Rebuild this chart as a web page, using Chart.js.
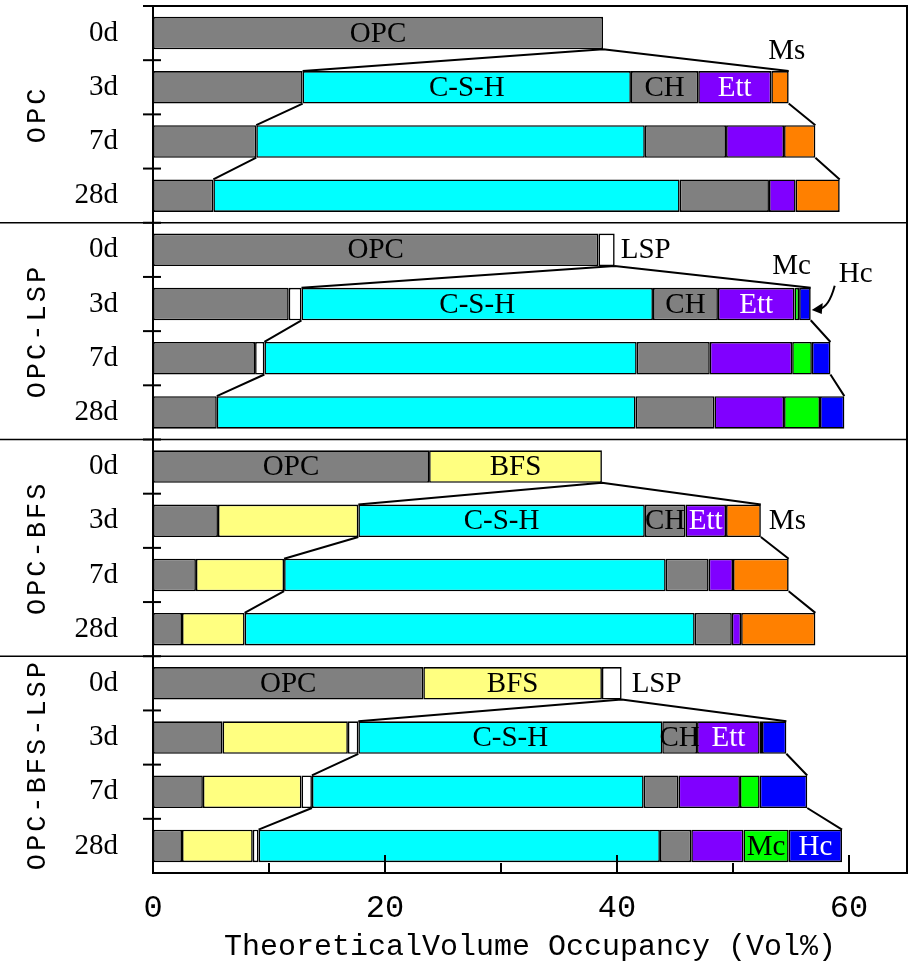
<!DOCTYPE html>
<html>
<head>
<meta charset="utf-8">
<script src="https://cdn.jsdelivr.net/npm/chart.js@4.4.1/dist/chart.umd.min.js"></script>
<style>
  html, body { margin: 0; padding: 0; background: #fff; }
  canvas { display: block; }
</style>
</head>
<body>
<canvas id="phases" width="911" height="969"></canvas>
<script>
// rows: 4 mixes x 4 ages
var groups = ['OPC', 'OPC-LSP', 'OPC-BFS', 'OPC-BFS-LSP'];
var ages = ['0d', '3d', '7d', '28d'];
var rows = [].concat(ages, ages, ages, ages);

// theoretical volume occupancy (vol%) per phase, one value per row
var opc = [38.8, 12.9, 8.9, 5.2,  38.4, 11.7, 8.8, 5.5,  23.8, 5.6, 3.7, 2.5,  23.3, 6.0, 4.3, 2.5];
var bfs = [0, 0, 0, 0,  0, 0, 0, 0,  14.9, 12.1, 7.6, 5.4,  15.4, 10.8, 8.5, 6.1];
var lsp = [0, 0, 0, 0,  1.4, 1.1, 0.8, 0,  0, 0, 0, 0,  1.7, 0.9, 0.9, 0.5];
var csh = [0, 28.3, 33.5, 40.2,  0, 30.3, 32.1, 36.1,  0, 24.7, 32.9, 38.8,  0, 26.2, 28.6, 34.6];
var ch  = [0, 5.8, 7.0, 7.7,  0, 5.6, 6.3, 6.8,  0, 3.5, 3.7, 3.2,  0, 3.0, 3.0, 2.7];
var ett = [0, 6.3, 5.0, 2.3,  0, 6.6, 7.1, 6.0,  0, 3.5, 2.1, 0.8,  0, 5.4, 5.3, 4.5];
var ms  = [0, 1.5, 2.7, 3.8,  0, 0, 0, 0,  0, 3.0, 4.8, 6.4,  0, 0, 0, 0];
var mc  = [0, 0, 0, 0,  0, 0.4, 1.7, 3.1,  0, 0, 0, 0,  0, 0.2, 1.7, 3.9];
var hc  = [0, 0, 0, 0,  0, 1.0, 1.6, 2.1,  0, 0, 0, 0,  0, 2.1, 4.1, 4.6];

var xTicks = [0, 20, 40, 60];

var phases = [
  ['OPC', opc, '#808080'],
  ['BFS', bfs, '#ffff80'],
  ['LSP', lsp, '#ffffff'],
  ['C-S-H', csh, '#00ffff'],
  ['CH', ch, '#808080'],
  ['Ett', ett, '#8000ff'],
  ['Ms', ms, '#ff8000'],
  ['Mc', mc, '#00ff00'],
  ['Hc', hc, '#0000ff']
];

var datasets = phases.map(function (p) {
  return {
    label: p[0],
    data: p[1].map(function (v) { return v > 0 ? v : null; }),
    backgroundColor: p[2],
    borderColor: '#000',
    borderWidth: 1.6,
    borderSkipped: false,
    barPercentage: 0.6,
    categoryPercentage: 1.0
  };
});

function idx(name) {
  return phases.findIndex(function (p) { return p[0] === name; });
}
function sumTo(r, n) {
  var s = 0;
  for (var i = 0; i < n; i++) s += phases[i][1][r];
  return s;
}

var serif = '"Liberation Serif", "Times New Roman", serif';
var mono = '"Liberation Mono", monospace';

// labels written on the bars
var inside = [
  [0, 'OPC', '#000'],
  [1, 'C-S-H', '#000'], [1, 'CH', '#000'], [1, 'Ett', '#fff'],
  [4, 'OPC', '#000'],
  [5, 'C-S-H', '#000'], [5, 'CH', '#000'], [5, 'Ett', '#fff'],
  [8, 'OPC', '#000'], [8, 'BFS', '#000'],
  [9, 'C-S-H', '#000'], [9, 'CH', '#000'], [9, 'Ett', '#fff'],
  [12, 'OPC', '#000'], [12, 'BFS', '#000'],
  [13, 'C-S-H', '#000'], [13, 'CH', '#000'], [13, 'Ett', '#fff'],
  [15, 'Mc', '#000'], [15, 'Hc', '#fff']
];

var overlay = {
  id: 'overlay',
  afterDatasetsDraw: function (chart) {
    var ctx = chart.ctx, a = chart.chartArea;
    var x = chart.scales.x, y = chart.scales.y;
    var m0 = chart.getDatasetMeta(0);
    var n = rows.length, total = phases.length;
    function top(r) { return m0.data[r].y - m0.data[r].height / 2; }
    function bot(r) { return m0.data[r].y + m0.data[r].height / 2; }
    function mid(r) { return m0.data[r].y; }
    function edge(k) {
      if (k === 0) return a.top;
      if (k === n) return a.bottom;
      return (y.getPixelForValue(k - 1) + y.getPixelForValue(k)) / 2;
    }
    ctx.save();
    ctx.strokeStyle = '#000';
    ctx.fillStyle = '#000';

    // funnel lines between successive ages
    ctx.lineWidth = 2;
    for (var g = 0; g < groups.length; g++) {
      for (var j = 0; j < 3; j++) {
        var r = g * 4 + j;
        var endR = x.getPixelForValue(sumTo(r, total));
        var endN = x.getPixelForValue(sumTo(r + 1, total));
        var hydN = x.getPixelForValue(sumTo(r + 1, 3));
        var fromL = j === 0 ? endR : x.getPixelForValue(sumTo(r, 3));
        ctx.beginPath();
        ctx.moveTo(fromL, bot(r)); ctx.lineTo(hydN, top(r + 1));
        ctx.moveTo(endR, bot(r)); ctx.lineTo(endN, top(r + 1));
        ctx.stroke();
      }
    }

    // frame
    ctx.lineWidth = 2;
    ctx.strokeRect(a.left, a.top, a.right - a.left, a.bottom - a.top);

    // group separators
    ctx.lineWidth = 1.5;
    [4, 8, 12].forEach(function (k) {
      ctx.beginPath();
      ctx.moveTo(0, edge(k)); ctx.lineTo(a.right, edge(k));
      ctx.stroke();
    });

    // y tick marks on row boundaries
    ctx.lineWidth = 2;
    for (var k = 0; k < n; k++) {
      ctx.beginPath();
      ctx.moveTo(a.left - 10, edge(k)); ctx.lineTo(a.left + 8, edge(k));
      ctx.stroke();
    }

    // x tick marks, pointing inward
    for (var v = 0; v <= 60; v += 10) {
      var px = x.getPixelForValue(v);
      ctx.beginPath();
      ctx.moveTo(px, a.bottom); ctx.lineTo(px, a.bottom - (v % 20 === 0 ? 18 : 10));
      ctx.stroke();
    }

    // segment labels
    ctx.font = '29px ' + serif;
    ctx.textAlign = 'center';
    ctx.textBaseline = 'middle';
    inside.forEach(function (t) {
      var r = t[0], i = idx(t[1]);
      var cx = x.getPixelForValue(sumTo(r, i) + phases[i][1][r] / 2);
      ctx.fillStyle = t[2];
      ctx.fillText(t[1], cx, mid(r) + 1);
    });

    // labels outside the bars
    ctx.fillStyle = '#000';
    ctx.textAlign = 'left';
    ctx.fillText('LSP', x.getPixelForValue(sumTo(4, total)) + 6, mid(4) + 1);
    ctx.fillText('Ms', x.getPixelForValue(sumTo(9, total)) + 8, mid(9) + 1);
    ctx.fillText('LSP', x.getPixelForValue(sumTo(12, total)) + 10, mid(12) + 1);
    ctx.textAlign = 'center';
    ctx.fillText('Ms', x.getPixelForValue(sumTo(1, total)) - 2, top(1) - 20);
    ctx.fillText('Mc', x.getPixelForValue(sumTo(5, idx('Mc'))) - 3, top(5) - 21);
    var hcEnd = x.getPixelForValue(sumTo(5, total));
    ctx.fillText('Hc', hcEnd + 45, top(5) - 13);

    // arrow to the Hc sliver
    ctx.lineWidth = 2;
    ctx.beginPath();
    ctx.moveTo(hcEnd + 24, top(5) - 2);
    ctx.quadraticCurveTo(hcEnd + 18, mid(5) + 4, hcEnd + 8, mid(5) + 5);
    ctx.stroke();
    ctx.beginPath();
    ctx.moveTo(hcEnd + 1, mid(5) + 6);
    ctx.lineTo(hcEnd + 12, mid(5) - 1);
    ctx.lineTo(hcEnd + 11, mid(5) + 10);
    ctx.closePath();
    ctx.fill();

    // mix names, rotated
    ctx.font = '27px ' + mono;
    if ('letterSpacing' in ctx) ctx.letterSpacing = '3px';
    groups.forEach(function (name, g) {
      var cy = (edge(g * 4) + edge(g * 4 + 4)) / 2;
      ctx.save();
      ctx.translate(38, cy);
      ctx.rotate(-Math.PI / 2);
      ctx.textAlign = 'center';
      ctx.textBaseline = 'middle';
      ctx.fillText(name, 0, 0);
      ctx.restore();
    });
    ctx.restore();
  }
};

new Chart(document.getElementById('phases'), {
  type: 'bar',
  data: { labels: rows, datasets: datasets },
  options: {
    indexAxis: 'y',
    responsive: false,
    animation: false,
    devicePixelRatio: 1,
    layout: { autoPadding: false, padding: { top: 6, right: 4, left: 0, bottom: 0 } },
    plugins: { legend: { display: false }, tooltip: { enabled: false } },
    scales: {
      x: {
        stacked: true,
        min: 0,
        max: 65,
        grid: { display: false },
        border: { display: true, color: '#000', width: 2 },
        ticks: {
          stepSize: 10,
          color: '#000',
          padding: 8,
          maxRotation: 0,
          font: { family: mono, size: 32 },
          callback: function (v) { return xTicks.indexOf(v) >= 0 ? String(v) : ''; }
        },
        title: {
          display: true,
          text: 'TheoreticalVolume Occupancy (Vol%)',
          color: '#000',
          font: { family: mono, size: 30 },
          padding: { top: 0, bottom: 4 }
        },
        afterFit: function (s) {
          s.height = 96;
          s.paddingLeft = 0; s.paddingRight = 0;
        }
      },
      y: {
        stacked: true,
        grid: { display: false },
        border: { display: true, color: '#000', width: 2 },
        ticks: {
          autoSkip: false,
          color: '#000',
          padding: 27,
          font: { family: serif, size: 29 }
        },
        afterFit: function (s) {
          s.width = 153;
          s.paddingTop = 0; s.paddingBottom = 0;
        }
      }
    }
  },
  plugins: [overlay]
});
</script>
</body>
</html>
